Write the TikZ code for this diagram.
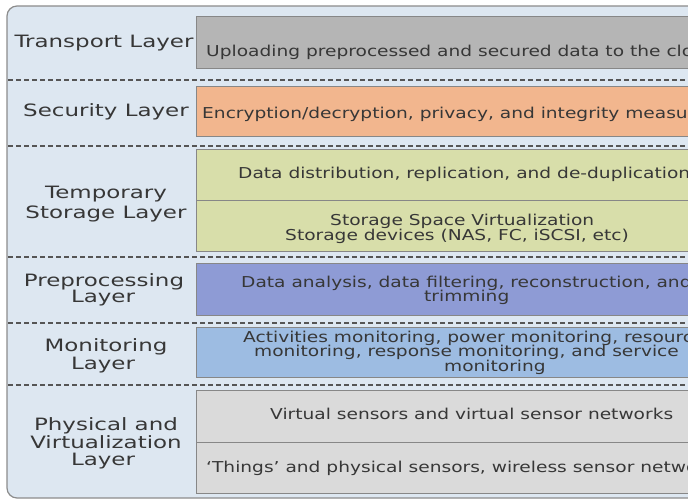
\documentclass[tikz,border=0pt]{standalone}
\usepackage{fontspec}
\newfontfamily\labfont[FakeStretch=1.35]{DejaVu Sans}
\newfontfamily\bodyfont[FakeStretch=1.24]{DejaVu Sans}
\definecolor{outerbg}{RGB}{221,231,241}
\definecolor{outerline}{RGB}{140,140,140}
\definecolor{boxline}{RGB}{135,135,135}
\definecolor{dashcol}{RGB}{85,85,85}
\definecolor{txt}{RGB}{55,55,55}
\definecolor{cTransport}{RGB}{181,181,181}
\definecolor{cSecurity}{RGB}{242,182,142}
\definecolor{cStorage}{RGB}{216,222,170}
\definecolor{cPre}{RGB}{142,155,213}
\definecolor{cMon}{RGB}{157,188,226}
\definecolor{cPhys}{RGB}{218,218,218}
\begin{document}
\begin{tikzpicture}[x=1pt,y=-1pt,
  lab/.style={anchor=base,inner sep=0pt,font=\labfont\fontsize{17}{20}\selectfont,text=txt},
  body/.style={anchor=base west,inner sep=0pt,font=\bodyfont\fontsize{15}{17}\selectfont,text=txt},
  layerbox/.style={draw=boxline,line width=1pt},
  sepline/.style={draw=dashcol,dash pattern=on 5pt off 3pt,line width=1.2pt}]
\useasboundingbox (0,0) rectangle (688,502);
\clip (0,0) rectangle (688,502);
% outer panel
\draw[fill=outerbg,draw=outerline,line width=1.2pt,rounded corners=10pt] (7,6) rectangle (760,498);
% separators
\foreach \yy in {80,146,257,323,385} \draw[sepline] (8,\yy) -- (700,\yy);
% boxes
\draw[layerbox,fill=cTransport] (196,17) rectangle (720,69);
\draw[layerbox,fill=cSecurity] (196,87) rectangle (720,137);
\draw[layerbox,fill=cStorage] (196,150) rectangle (720,252);
\draw[boxline,line width=1pt] (196,201) -- (720,201);
\draw[layerbox,fill=cPre] (196,264) rectangle (720,316);
\draw[layerbox,fill=cMon] (196,328) rectangle (720,378);
\draw[layerbox,fill=cPhys] (196,391) rectangle (720,493);
\draw[boxline,line width=1pt] (196,442) -- (720,442);
% labels
\node[lab] (lT) at (104,48) {Transport Layer};
\node[lab] (lS) at (106,117) {Security Layer};
\node[lab] (lTS1) at (106,199) {Temporary};
\node[lab] (lTS2) at (106,219) {Storage Layer};
\node[lab] (lP1) at (104,287) {Preprocessing};
\node[lab] (lP2) at (103,303) {Layer};
\node[lab] (lM1) at (106,352) {Monitoring};
\node[lab] (lM2) at (103,370) {Layer};
\node[lab] (lV1) at (106,430) {Physical and};
\node[lab] (lV2) at (106,448) {Virtualization};
\node[lab] (lV3) at (103,465) {Layer};
% body texts
\node[body] (tT) at (206,57) {Uploading preprocessed and secured data to the cloud};
\node[body] (tS) at (202,119) {Encryption/decryption, privacy, and integrity measures};
\node[body] (tD) at (238,179) {Data distribution, replication, and de-duplication};
\node[body] (tV1) at (330,226) {Storage Space Virtualization};
\node[body] (tV2) at (285,241) {Storage devices (NAS, FC, iSCSI, etc)};
\node[body] (tP1) at (241,288) {Data analysis, data filtering, reconstruction, and};
\node[body] (tP2) at (424,302) {trimming};
\node[body] (tM1) at (243,343) {Activities monitoring, power monitoring, resource};
\node[body] (tM2) at (254,357) {monitoring, response monitoring, and service};
\node[body] (tM3) at (444,372) {monitoring};
\node[body] (tVS) at (270,420) {Virtual sensors and virtual sensor networks};
\node[body] (tTh) at (206,472) {‘Things’ and physical sensors, wireless sensor networks};
\end{tikzpicture}
\end{document}
